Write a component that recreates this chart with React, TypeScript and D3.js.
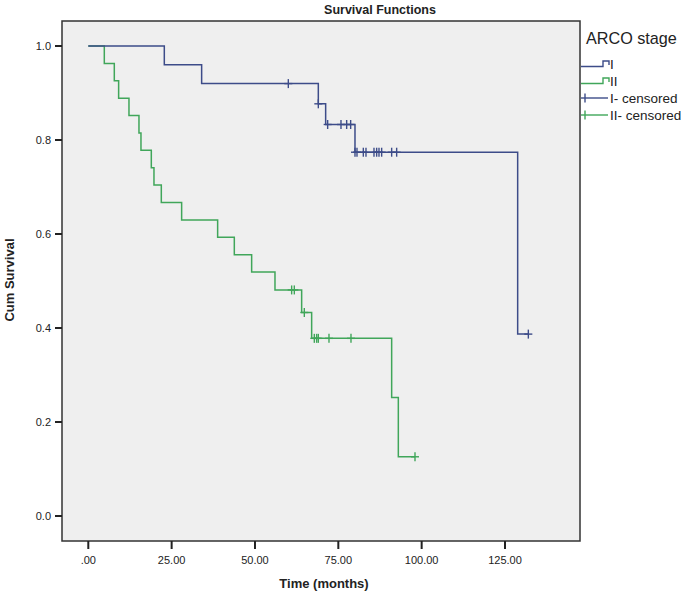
import React from "react";
import * as d3 from "d3";

// ---- Data ----
const stageITimes = [0, 22.8, 34, 69, 71.2, 80, 128.8];
const stageISurv = [1, 0.96, 0.92, 0.877, 0.833, 0.774, 0.387];
const stageIEnd = 132;
const stageICensored = [60, 69, 71.8, 75.8, 77.5, 78.7, 80, 80.6, 82.5, 83.3, 85.7, 86.5, 87.2, 88, 91, 92.5, 132];

const stageIITimes = [0, 4.8, 7.8, 9.1, 12.2, 15.2, 15.8, 18.9, 19.7, 21.9, 28, 38.8, 43.8, 49, 56, 64, 67, 91, 93];
const stageIISurv = [1, 0.963, 0.926, 0.889, 0.852, 0.815, 0.778, 0.741, 0.704, 0.667, 0.63, 0.593, 0.556, 0.519, 0.481, 0.433, 0.378, 0.252, 0.126];
const stageIIEnd = 98;
const stageIICensored = [61, 61.8, 64.8, 67.8, 68.5, 69, 72.2, 78.8, 98];

const xTicks = [0, 25, 50, 75, 100, 125];
const xTickLabels = [".00", "25.00", "50.00", "75.00", "100.00", "125.00"];
const yTicks = [0, 0.2, 0.4, 0.6, 0.8, 1.0];
const yTickLabels = ["0.0", "0.2", "0.4", "0.6", "0.8", "1.0"];

const legendTitle = "ARCO stage";
const legendLabels = ["I", "II", "I- censored", "II- censored"];

const BLUE = "#3d4c89";
const GREEN = "#40a65a";
const FONT = "'Liberation Sans', Arial, sans-serif";

const frame = { left: 62, right: 580, top: 21, bottom: 541 };
const x = d3.scaleLinear().domain([0, 125]).range([88.3, 505]);
const y = d3.scaleLinear().domain([0, 1]).range([516, 46]);

function stepPoints(times: number[], surv: number[], end: number): [number, number][] {
  const pts: [number, number][] = times.map((t, i) => [t, surv[i]]);
  pts.push([end, surv[surv.length - 1]]);
  return pts;
}

function survAt(times: number[], surv: number[], t: number) {
  let v = surv[0];
  for (let i = 0; i < times.length; i++) if (times[i] <= t) v = surv[i];
  return v;
}

const line = d3
  .line<[number, number]>()
  .x((d) => x(d[0]))
  .y((d) => y(d[1]))
  .curve(d3.curveStepAfter);

function Censors({ times, surv, cens, color }: { times: number[]; surv: number[]; cens: number[]; color: string }) {
  return (
    <g stroke={color} strokeWidth={1.4}>
      {cens.map((t, i) => {
        const cx = x(t);
        const cy = y(survAt(times, surv, t));
        return (
          <g key={i}>
            <line x1={cx} x2={cx} y1={cy - 4.5} y2={cy + 4.5} />
            <line x1={cx - 4} x2={cx + 4} y1={cy} y2={cy} />
          </g>
        );
      })}
    </g>
  );
}

export default function App() {
  const legY = [64, 81, 98, 115];
  return (
    <svg
      width={685}
      height={592}
      style={{ position: "absolute", left: 0, top: 0, background: "#fff" }}
      fontFamily={FONT}
    >
      <rect x={0} y={0} width={685} height={592} fill="#fff" />
      <text x={380} y={14} textAnchor="middle" fontSize={12.5} fontWeight="bold" fill="#222">
        Survival Functions
      </text>
      {/* plot area */}
      <rect
        x={frame.left}
        y={frame.top}
        width={frame.right - frame.left}
        height={frame.bottom - frame.top}
        fill="#efefef"
        stroke="#333"
        strokeWidth={1.5}
      />
      {/* y axis */}
      {yTicks.map((v, i) => (
        <g key={"y" + i}>
          <line x1={frame.left - 7} x2={frame.left} y1={y(v)} y2={y(v)} stroke="#222" strokeWidth={2} />
          <text x={51} y={y(v) + 4} textAnchor="end" fontSize={11} fill="#222">
            {yTickLabels[i]}
          </text>
        </g>
      ))}
      {/* x axis */}
      {xTicks.map((v, i) => (
        <g key={"x" + i}>
          <line x1={x(v)} x2={x(v)} y1={frame.bottom} y2={frame.bottom + 8} stroke="#222" strokeWidth={2} />
          <text x={x(v)} y={564} textAnchor="middle" fontSize={11} fill="#222">
            {xTickLabels[i]}
          </text>
        </g>
      ))}
      <text x={324} y={588} textAnchor="middle" fontSize={13} fontWeight="bold" fill="#222">
        Time (months)
      </text>
      <text
        transform="translate(14,280) rotate(-90)"
        textAnchor="middle"
        fontSize={13}
        fontWeight="bold"
        fill="#222"
      >
        Cum Survival
      </text>

      {/* curves */}
      <path d={line(stepPoints(stageIITimes, stageIISurv, stageIIEnd)) || ""} fill="none" stroke={GREEN} strokeWidth={1.5} />
      <path d={line(stepPoints(stageITimes, stageISurv, stageIEnd)) || ""} fill="none" stroke={BLUE} strokeWidth={1.5} />
      <Censors times={stageIITimes} surv={stageIISurv} cens={stageIICensored} color={GREEN} />
      <Censors times={stageITimes} surv={stageISurv} cens={stageICensored} color={BLUE} />

      {/* legend */}
      <text x={586} y={44} fontSize={16.2} fill="#222">
        {legendTitle}
      </text>
      {[BLUE, GREEN].map((c, i) => (
        <g key={"ls" + i}>
          <path
            d={`M581,${legY[i] + 2.5} H603 V${legY[i] - 3} H609 V${legY[i] + 1}`}
            fill="none"
            stroke={c}
            strokeWidth={1.4}
          />
        </g>
      ))}
      {[BLUE, GREEN].map((c, i) => (
        <g key={"lc" + i} stroke={c} strokeWidth={1.4}>
          <line x1={581} x2={608} y1={legY[i + 2]} y2={legY[i + 2]} />
          <line x1={585} x2={585} y1={legY[i + 2] - 4.5} y2={legY[i + 2] + 4.5} />
        </g>
      ))}
      {legendLabels.map((l, i) => (
        <text key={"lt" + i} x={610} y={legY[i] + 5} fontSize={13.5} fill="#222">
          {l}
        </text>
      ))}
    </svg>
  );
}
